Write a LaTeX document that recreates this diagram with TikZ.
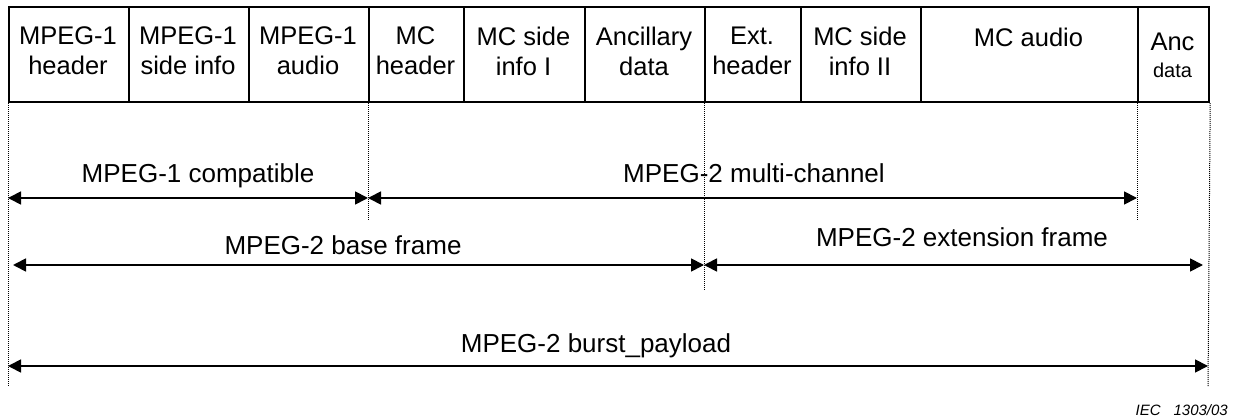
\documentclass[tikz,border=0pt]{standalone}
\usepackage{fontspec}
\setmainfont{Liberation Sans}
\usetikzlibrary{arrows.meta}
\begin{document}
\begin{tikzpicture}[x=1pt,y=-1pt,
  cell/.style={draw,line width=2.2pt,inner sep=0pt,anchor=north west,minimum height=95pt},
  celltxt/.style={align=center,font=\fontsize{25.5}{30}\selectfont,inner sep=0pt},
  guide/.style={line width=1pt,dash pattern=on 1pt off 1pt},
  span/.style={line width=1.8pt,{Triangle[length=13pt,width=13pt]}-{Triangle[length=13pt,width=13pt]}},
  spanlbl/.style={anchor=base,font=\fontsize{26}{30}\selectfont,inner sep=0pt}]
\useasboundingbox (0,0) rectangle (1234,419);
% frame cells
\node[cell,minimum width=120pt] (b1) at (8,6) {};
\node[cell,minimum width=120pt] (b2) at (128,6) {};
\node[cell,minimum width=120pt] (b3) at (248,6) {};
\node[cell,minimum width=95pt]  (b4) at (368,6) {};
\node[cell,minimum width=121pt] (b5) at (463,6) {};
\node[cell,minimum width=120pt] (b6) at (584,6) {};
\node[cell,minimum width=96pt]  (b7) at (704,6) {};
\node[cell,minimum width=120pt] (b8) at (800,6) {};
\node[cell,minimum width=217pt] (b9) at (920,6) {};
\node[cell,minimum width=71pt]  (b10) at (1137,6) {};
% cell texts
\node[celltxt] (t1) at (68,51) {MPEG-1\\header};
\node[celltxt] (t2) at (188,51) {MPEG-1\\side info};
\node[celltxt] (t3) at (308,51) {MPEG-1\\audio};
\node[celltxt] (t4) at (415.5,51) {MC\\header};
\node[celltxt] (t5) at (523.5,51) {MC side\\info I};
\node[celltxt] (t6) at (644,51) {Ancillary\\data};
\node[celltxt] (t7) at (752,51) {Ext.\\header};
\node[celltxt] (t8) at (860,51) {MC side\\info II};
\node[celltxt] (t9) at (1028.5,37) {MC audio};
\node[celltxt] (t10) at (1172.5,55) {Anc\\[-3pt]{\fontsize{20}{24}\selectfont data}};
% guide ends
\coordinate (g1) at (8,387);
\coordinate (g4) at (368,220);
\coordinate (g7) at (704,290);
\coordinate (g10) at (1137,220);
\coordinate (g11) at (1208,387);
\draw[guide] (b1.south west) -- (g1);
\draw[guide] (b4.south west) -- (g4);
\draw[guide] (b7.south west) -- (g7);
\draw[guide] (b10.south west) -- (g10);
\draw[guide] (b10.south east) -- (g11);
% span ends
\coordinate (a1) at (8,198);
\coordinate (a2) at (368,198);
\coordinate (a3) at (1137,198);
\coordinate (r1) at (13,265);
\coordinate (r2) at (704,265);
\coordinate (r3) at (1203,265);
\coordinate (s1) at (8,366);
\coordinate (s2) at (1208,366);
\draw[span] (a1) -- (a2);
\draw[span] (a2) -- (a3);
\draw[span] (r1) -- (r2);
\draw[span] (r2) -- (r3);
\draw[span] (s1) -- (s2);
% span labels
\node[spanlbl] (l1) at (198,183) {MPEG-1 compatible};
\node[spanlbl] (l2) at (754,183) {MPEG-2 multi-channel};
\node[spanlbl] (l3) at (343,255) {MPEG-2 base frame};
\node[spanlbl] (l4) at (962,247) {MPEG-2 extension frame};
\node[spanlbl] (l5) at (596,353) {MPEG-2 burst\_payload};
\node[anchor=base east,inner sep=0pt,font=\fontsize{15}{17}\selectfont\itshape] (iec) at (1228,415) {IEC\hspace{13pt}1303/03};
\end{tikzpicture}
\end{document}
